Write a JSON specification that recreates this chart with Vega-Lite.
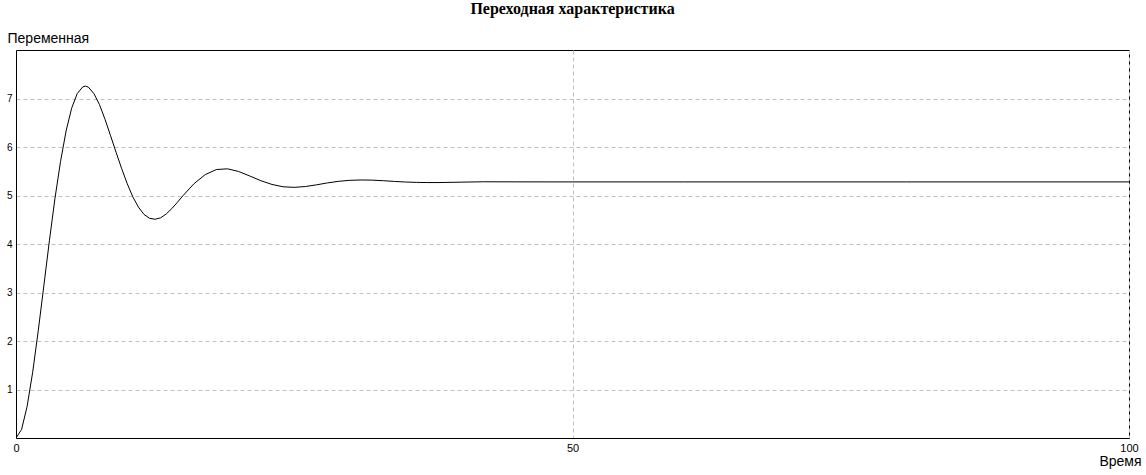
{
  "$schema": "https://vega.github.io/schema/vega-lite/v6.json",
  "width": 1113,
  "height": 388,
  "autosize": "none",
  "padding": {"left": 16, "top": 50, "right": 17, "bottom": 37},
  "background": "white",
  "title": {
    "text": "Переходная характеристика",
    "font": "Liberation Serif",
    "fontSize": 16,
    "fontWeight": "bold",
    "color": "black",
    "anchor": "middle",
    "frame": "group",
    "offset": 14
  },
  "config": {
    "view": {"stroke": "black", "strokeWidth": 1},
    "axis": {
      "domainColor": "black",
      "ticks": false,
      "labelFont": "Liberation Sans",
      "labelColor": "black",
      "gridColor": "#c0c0c0",
      "gridDash": [4, 3],
      "gridWidth": 1,
      "titleFont": "Liberation Sans",
      "titleFontWeight": "normal",
      "titleColor": "black",
      "titleFontSize": 14
    }
  },
  "data": {
    "values": [
      {"t": 0, "v": 0},
      {"t": 0.5, "v": 0.175},
      {"t": 1, "v": 0.653},
      {"t": 1.5, "v": 1.358},
      {"t": 2, "v": 2.212},
      {"t": 2.5, "v": 3.136},
      {"t": 3, "v": 4.065},
      {"t": 3.5, "v": 4.94},
      {"t": 4, "v": 5.70},
      {"t": 4.5, "v": 6.33},
      {"t": 5, "v": 6.80},
      {"t": 5.5, "v": 7.10},
      {"t": 6, "v": 7.24},
      {"t": 6.25, "v": 7.255},
      {"t": 6.5, "v": 7.235},
      {"t": 7, "v": 7.10},
      {"t": 7.5, "v": 6.875},
      {"t": 8, "v": 6.57},
      {"t": 8.5, "v": 6.23},
      {"t": 9, "v": 5.885},
      {"t": 9.5, "v": 5.55},
      {"t": 10, "v": 5.24},
      {"t": 10.5, "v": 4.97},
      {"t": 11, "v": 4.76},
      {"t": 11.5, "v": 4.61},
      {"t": 12, "v": 4.53},
      {"t": 12.5, "v": 4.51},
      {"t": 13, "v": 4.54},
      {"t": 13.5, "v": 4.62},
      {"t": 14, "v": 4.73},
      {"t": 14.5, "v": 4.86},
      {"t": 15, "v": 4.995},
      {"t": 16, "v": 5.245},
      {"t": 17, "v": 5.43},
      {"t": 18, "v": 5.535},
      {"t": 19, "v": 5.55},
      {"t": 20, "v": 5.495},
      {"t": 21, "v": 5.403},
      {"t": 22, "v": 5.305},
      {"t": 23, "v": 5.228},
      {"t": 24, "v": 5.18},
      {"t": 25, "v": 5.168},
      {"t": 26, "v": 5.185},
      {"t": 27, "v": 5.22},
      {"t": 28, "v": 5.26},
      {"t": 29, "v": 5.293},
      {"t": 30, "v": 5.313},
      {"t": 31, "v": 5.32},
      {"t": 32, "v": 5.317},
      {"t": 33, "v": 5.305},
      {"t": 34, "v": 5.29},
      {"t": 35, "v": 5.278},
      {"t": 36, "v": 5.27},
      {"t": 37, "v": 5.267},
      {"t": 38, "v": 5.267},
      {"t": 40, "v": 5.275},
      {"t": 42, "v": 5.283},
      {"t": 45, "v": 5.281},
      {"t": 50, "v": 5.28},
      {"t": 60, "v": 5.28},
      {"t": 80, "v": 5.28},
      {"t": 100, "v": 5.28}
    ]
  },
  "mark": {"type": "line", "color": "black", "strokeWidth": 1, "clip": true},
  "encoding": {
    "x": {
      "field": "t",
      "type": "quantitative",
      "scale": {"domain": [0, 100], "nice": false, "zero": false},
      "axis": {
        "values": [0, 50, 100],
        "grid": true,
        "labelFontSize": 11,
        "labelPadding": 4,
        "labelFlush": false,
        "title": "Время",
        "titleAnchor": "end",
        "titleAlign": "right",
        "titleBaseline": "alphabetic",
        "titleX": 1125,
        "titleY": 27
      }
    },
    "y": {
      "field": "v",
      "type": "quantitative",
      "scale": {"domain": [0, 8], "nice": false},
      "axis": {
        "values": [1, 2, 3, 4, 5, 6, 7],
        "grid": true,
        "labelFontSize": 10,
        "labelPadding": 4,
        "title": "Переменная",
        "titleAngle": 0,
        "titleAlign": "left",
        "titleBaseline": "alphabetic",
        "titleX": -9,
        "titleY": -8
      }
    }
  }
}
